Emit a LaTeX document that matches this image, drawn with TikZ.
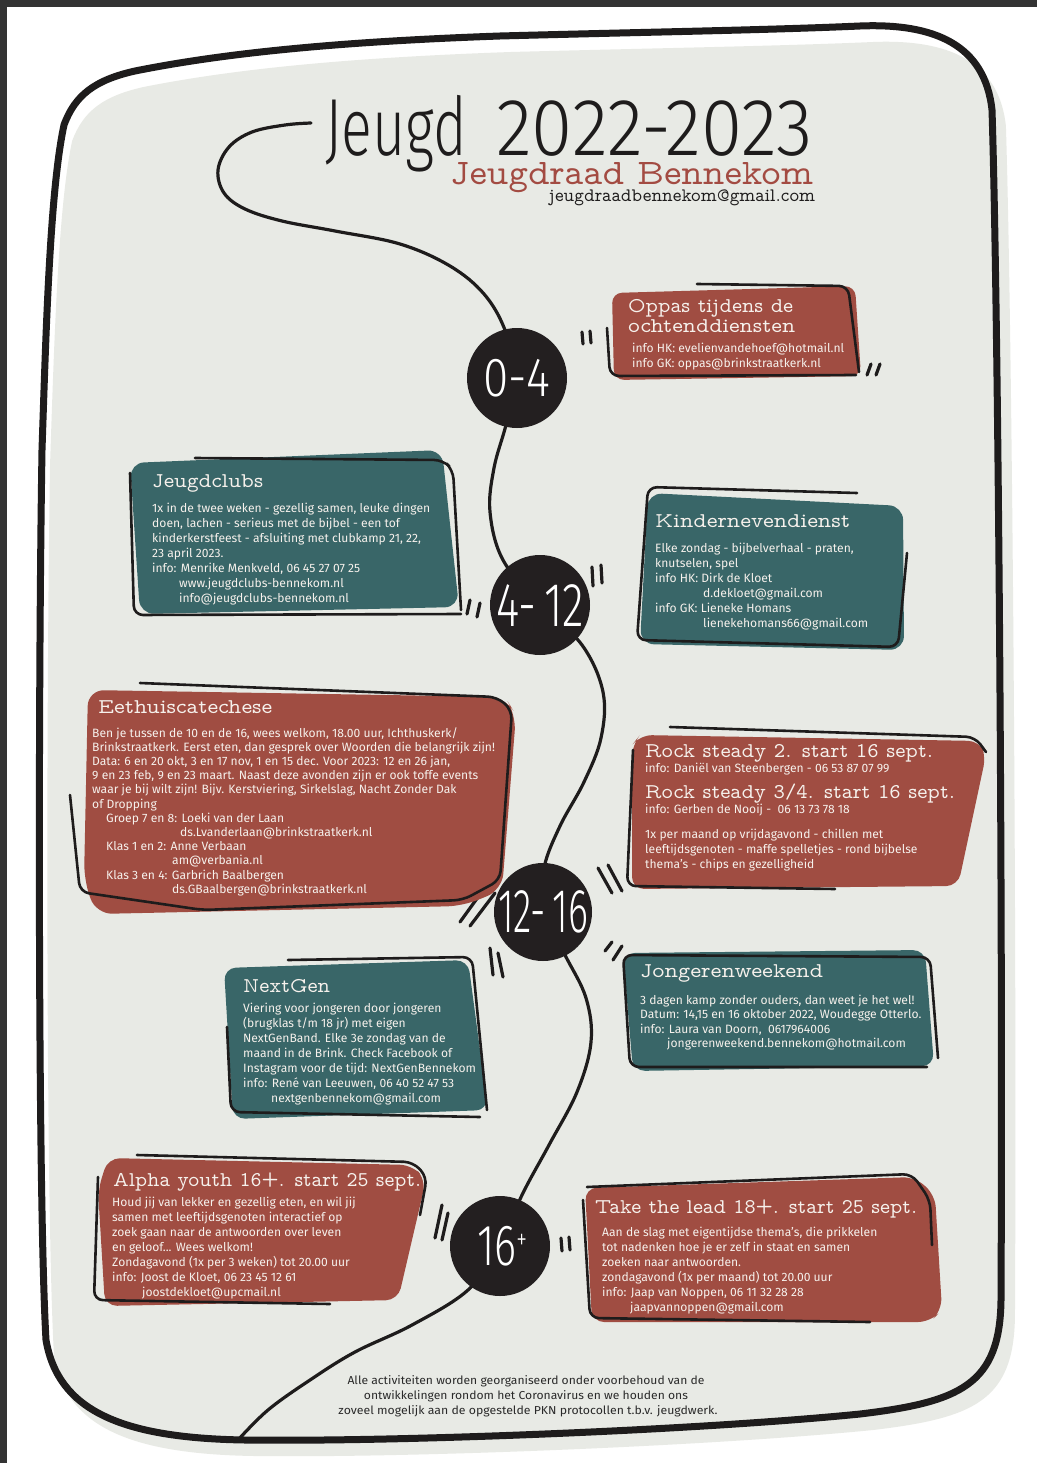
\documentclass[tikz,border=0pt]{standalone}
\usepackage{fontspec}
\usepackage{graphicx}
\setmainfont{Fira Sans}
\newfontfamily\thinf{Fira Sans Light}
\newfontfamily\typef{lmmonoprop10-regular.otf}
\definecolor{bggray}{HTML}{E8EAE5}
\definecolor{redf}{HTML}{A04D42}
\definecolor{tealf}{HTML}{396668}
\definecolor{inkc}{HTML}{1E1C1C}
\definecolor{darkc}{HTML}{231F20}
\definecolor{titred}{HTML}{A34B42}
\definecolor{boxtext}{HTML}{F6F1EC}
\definecolor{framec}{HTML}{333333}
\definecolor{footc}{HTML}{2A2A2A}
\newcommand\fitw[2]{\resizebox{#1pt}{\height}{#2}}
\newcommand\txtlines[1]{\begin{tabular}[t]{@{}l@{}}#1\end{tabular}}
\tikzset{
  bodytxt/.style={anchor=base west, inner sep=0, text=boxtext, font=\fontsize{12.1}{15}\selectfont},
  headtxt/.style={anchor=base west, inner sep=0, text=boxtext, font=\typef\fontsize{21}{21}\selectfont},
  sk/.style={draw=inkc, line width=2.6pt, line cap=round, line join=round, rounded corners=9pt},
  qm/.style={draw=inkc, line width=3.2pt, line cap=round},
  agec/.style={circle, fill=darkc, inner sep=0},
  agetxt/.style={text=white, inner sep=0},
  pathline/.style={draw=inkc, line width=3.2pt, line cap=round},
  foot/.style={anchor=base, inner sep=0, text=footc, font=\fontsize{11.5}{15}\selectfont},
}
\def\blobpath{(42,450) .. controls (46,330) and (50,190) .. (64,125)
 .. controls (75,95) and (95,80) .. (135,71)
 .. controls (220,54) and (330,42) .. (500,36)
 .. controls (650,32) and (770,30) .. (860,26)
 .. controls (935,23) and (985,45) .. (992,110)
 .. controls (998,300) and (1003,900) .. (1001,1300)
 .. controls (1000,1385) and (960,1402) .. (860,1414)
 .. controls (700,1430) and (400,1442) .. (245,1440)
 .. controls (120,1438) and (58,1410) .. (46,1340)
 .. controls (38,1200) and (38,700) .. (42,450) -- cycle}
\begin{document}
\begin{tikzpicture}[x=1pt,y=-1pt]
\useasboundingbox (0,0) rectangle (1037,1463);
\fill[white] (0,0) rectangle (1037,1463);
\fill[framec] (0,0) rectangle (1037,7);
\fill[framec] (0,0) rectangle (7,1463);
% background blob and frame
\fill[bggray, shift={(7.75,16)}, xscale=1.0062] \blobpath;
\draw[inkc, line width=7pt] \blobpath;
% timeline path
\coordinate (p04) at (517,378);
\coordinate (p412) at (540,605);
\coordinate (p1216) at (543,912);
\coordinate (p16) at (500,1246);
\draw[pathline] plot[smooth, tension=0.6] coordinates {
 (311,123) (285,125) (252,132) (229,147) (218,170) (224,193) (245,209) (282,221) (335,231) (400,244) (450,266) (484,294) (505,330) (p04) (506,425) (494,468) (490,512) (503,560) (p412) (582,645) (603,692) (601,738) (584,782) (560,826) (544,868) (p1216) (565,955) (586,998) (591,1042) (577,1092) (549,1145) (522,1195) (p16) (468,1290) (412,1325) (355,1352) (310,1380) (268,1410) (238,1440)};
% header
\node[anchor=base west, inner sep=0, text=inkc] (title1) at (325,156) {\fitw{142}{\thinf\fontsize{81}{81}\selectfont Jeugd}};
\node[anchor=base west, inner sep=0, text=inkc] (title2) at (496,156) {\fitw{317}{\thinf\fontsize{81}{81}\selectfont 2022-2023}};
\node[anchor=base west, inner sep=0, text=titred] (sub) at (450,185) {\fitw{363}{\typef\fontsize{36}{36}\selectfont Jeugdraad Bennekom}};
\node[anchor=base west, inner sep=0, text=inkc] (mail) at (549,202) {\fitw{266}{\typef\fontsize{19}{19}\selectfont jeugdraadbennekom@gmail.com}};
% circles
\node[agec, minimum size=100pt] (c04) at (p04) {};
\node[agec, minimum size=100pt] (c412) at (p412) {};
\node[agec, minimum size=98pt] (c1216) at (p1216) {};
\node[agec, minimum size=100pt] (c16) at (p16) {};
\node[agetxt] (t04) at (c04) {\fitw{67}{\thinf\fontsize{55}{55}\selectfont 0-4}};
\node[agetxt] (t412) at ([yshift=-1pt]c412) {\fitw{88}{\thinf\fontsize{62}{62}\selectfont 4-\,12}};
\node[agetxt] (t1216) at (c1216) {\fitw{90}{\thinf\fontsize{62}{62}\selectfont 12-\,16}};
\node[agetxt] (t16) at ([xshift=2pt]c16) {\fitw{50}{\thinf\fontsize{58}{58}\selectfont 16\raisebox{16pt}{\fontsize{30}{30}\selectfont +}}};
% quote marks
\draw[qm] (582,332) -- (583,344);  \draw[qm] (590,331) -- (591,343);
\draw[qm] (867,375) -- (871,364);  \draw[qm] (876,375) -- (880,364);
\draw[qm] (467,614) -- (470,600);  \draw[qm] (477,617) -- (480,603);
\draw[qm] (592,567) -- (593,586);  \draw[qm] (601,565) -- (602,583);
\draw[qm] (460,922) -- (486,886);  \draw[qm] (470,926) -- (495,893);
\draw[qm] (598,868) -- (612,893);  \draw[qm] (608,865) -- (622,891);
\draw[qm] (605,951) -- (612,942);  \draw[qm] (613,960) -- (622,946);
\draw[qm] (490,948) -- (493,975);  \draw[qm] (498,953) -- (503,977);
\draw[qm] (435,1238) -- (442,1205); \draw[qm] (442,1240) -- (448,1213);
\draw[qm] (561,1238) -- (562,1251); \draw[qm] (569,1237) -- (570,1250);
% ---- Oppas
\fill[redf, rounded corners=10pt] (612,293) -- (855,286) -- (861,376) -- (614,380) -- cycle;
\draw[sk] (607,328) -- (610,376) -- (856,375);
\draw[sk] (697,284) -- (848,286) -- (859,372);
\node[headtxt] (oph1) at (628,312) {\fitw{165}{Oppas tijdens de}};
\node[headtxt] (oph2) at (628,332) {\fitw{167}{ochtenddiensten}};
\node[bodytxt] (opb) at (632,352) {\txtlines{info HK: evelienvandehoef@hotmail.nl\\ info GK: oppas@brinkstraatkerk.nl}};
% ---- Jeugdclubs
\fill[tealf, rounded corners=14pt] (130,463) -- (442,450) -- (459,607) -- (140,614) -- cycle;
\draw[sk] (195,458) -- (443,460) -- (453,470) -- (461,610);
\draw[sk] (130,473) -- (134,615) -- (461,614);
\node[headtxt] (jch) at (152,487) {\fitw{111}{Jeugdclubs}};
\node[bodytxt] (jcb) at (152,512) {\txtlines{1x in de twee weken - gezellig samen, leuke dingen\\ doen, lachen - serieus met de bijbel - een tof\\ kinderkerstfeest - afsluiting met clubkamp 21, 22,\\ 23 april 2023.\\ info: Menrike Menkveld, 06 45 27 07 25\\ \hspace*{27pt}www.jeugdclubs-bennekom.nl\\ \hspace*{27pt}info@jeugdclubs-bennekom.nl}};
% ---- Kindernevendienst
\fill[tealf, rounded corners=14pt] (648,493) -- (903,506) -- (904,650) -- (640,644) -- cycle;
\draw[sk] (857,493) -- (648,487) -- (637,640) -- (898,647) -- (907,553);
\node[headtxt] (knh) at (655,527) {\fitw{195}{Kindernevendienst}};
\node[bodytxt] (knb) at (655,552) {\txtlines{Elke zondag - bijbelverhaal - praten,\\ knutselen, spel\\ info HK: Dirk de Kloet\\ \hspace*{48pt}d.dekloet@gmail.com\\ info GK: Lieneke Homans\\ \hspace*{48pt}lienekehomans66@gmail.com}};
% ---- Eethuiscatechese
\fill[redf, rounded corners=16pt] (88,690) -- (505,697) -- (516,715) -- (502,890) -- (463,906) -- (96,914) -- (84,880) -- cycle;
\draw[sk] (70,795) -- (80,892) -- (203,910) -- (463,900) -- (500,880) -- (512,710) -- (497,697) -- (140,683);
\node[headtxt] (eth) at (98,713) {\fitw{174}{Eethuiscatechese}};
\node[bodytxt, font=\fontsize{12.1}{14.2}\selectfont] (etb) at (92,737) {\txtlines{Ben je tussen de 10 en de 16, wees welkom, 18.00 uur, Ichthuskerk/\\ Brinkstraatkerk. Eerst eten, dan gesprek over Woorden die belangrijk zijn!\\ Data: 6 en 20 okt, 3 en 17 nov, 1 en 15 dec. Voor 2023: 12 en 26 jan,\\ 9 en 23 feb, 9 en 23 maart. Naast deze avonden zijn er ook toffe events\\ waar je bij wilt zijn! Bijv. Kerstviering, Sirkelslag, Nacht Zonder Dak\\ of Dropping\\ \hspace*{14pt}Groep 7 en 8: Loeki van der Laan\\ \hspace*{88pt}ds.Lvanderlaan@brinkstraatkerk.nl\\ \hspace*{14pt}Klas 1 en 2: Anne Verbaan\\ \hspace*{80pt}am@verbania.nl\\ \hspace*{14pt}Klas 3 en 4: Garbrich Baalbergen\\ \hspace*{80pt}ds.GBaalbergen@brinkstraatkerk.nl}};
% ---- Rock steady
\fill[redf, rounded corners=12pt] (640,735) -- (980,741) -- (986,755) -- (958,886) -- (632,889) -- (632,745) -- cycle;
\draw[sk] (670,727) -- (975,737) -- (986,752);
\draw[sk] (633,750) -- (627,886) -- (835,889);
\node[headtxt] (rs1) at (645,757) {\fitw{288}{Rock steady 2. start 16 sept.}};
\node[bodytxt] (rs1i) at (645,772) {info: Daniël van Steenbergen - 06 53 87 07 99};
\node[headtxt] (rs2) at (645,798) {\fitw{310}{Rock steady 3/4. start 16 sept.}};
\node[bodytxt] (rs2i) at (645,813) {info: Gerben de Nooij - \ 06 13 73 78 18};
\node[bodytxt] (rsb) at (645,838) {\txtlines{1x per maand op vrijdagavond - chillen met\\ leeftijdsgenoten - maffe spelletjes - rond bijbelse\\ thema's - chips en gezelligheid}};
% ---- NextGen
\fill[tealf, rounded corners=12pt] (224,968) -- (468,960) -- (488,1110) -- (233,1119) -- cycle;
\draw[sk] (288,960) -- (472,957) -- (487,1110);
\draw[sk] (227,1027) -- (231,1112) -- (480,1117);
\node[headtxt] (ngh) at (243,992) {\fitw{87}{NextGen}};
\node[bodytxt] (ngb) at (243,1012) {\txtlines{Viering voor jongeren door jongeren\\ (brugklas t/m 18 jr) met eigen\\ NextGenBand. Elke 3e zondag van de\\ maand in de Brink. Check Facebook of\\ Instagram voor de tijd: NextGenBennekom\\ info: René van Leeuwen, 06 40 52 47 53\\ \hspace*{28pt}nextgenbennekom@gmail.com}};
% ---- Jongerenweekend
\fill[tealf, rounded corners=12pt] (623,953) -- (925,950) -- (934,1066) -- (633,1071) -- cycle;
\draw[sk] (938,1058) -- (930,957) -- (623,955) -- (630,1067) -- (927,1067);
\node[headtxt] (jwh) at (640,977) {\fitw{183}{Jongerenweekend}};
\node[bodytxt, font=\fontsize{12.1}{14.5}\selectfont] (jwb) at (640,1004) {\txtlines{3 dagen kamp zonder ouders, dan weet je het wel!\\ Datum: 14,15 en 16 oktober 2022, Woudegge Otterlo.\\ info: Laura van Doorn, \ 0617964006\\ \hspace*{27pt}jongerenweekend.bennekom@hotmail.com}};
% ---- Alpha youth
\fill[redf, rounded corners=12pt] (108,1158) -- (412,1165) -- (426,1180) -- (398,1300) -- (105,1306) -- (98,1190) -- cycle;
\draw[sk] (137,1155) -- (413,1162) -- (427,1177) -- (420,1215);
\draw[sk] (98,1177) -- (94,1300) -- (330,1304);
\node[headtxt] (alh) at (113,1186) {\fitw{308}{Alpha youth 16+. start 25 sept.}};
\node[bodytxt] (alb) at (112,1206) {\txtlines{Houd jij van lekker en gezellig eten, en wil jij\\ samen met leeftijdsgenoten interactief op\\ zoek gaan naar de antwoorden over leven\\ en geloof... Wees welkom!\\ Zondagavond (1x per 3 weken) tot 20.00 uur\\ info: Joost de Kloet, 06 23 45 12 61\\ \hspace*{30pt}joostdekloet@upcmail.nl}};
% ---- Take the lead
\fill[redf, rounded corners=12pt] (585,1188) -- (915,1177) -- (935,1195) -- (942,1310) -- (930,1322) -- (592,1322) -- cycle;
\draw[sk] (587,1187) -- (912,1174) -- (930,1200) -- (932,1245);
\draw[sk] (583,1200) -- (590,1318) -- (870,1322);
\node[headtxt] (tlh) at (595,1213) {\fitw{322}{Take the lead 18+. start 25 sept.}};
\node[bodytxt] (tlb) at (602,1236) {\txtlines{Aan de slag met eigentijdse thema’s, die prikkelen\\ tot nadenken hoe je er zelf in staat en samen\\ zoeken naar antwoorden.\\ zondagavond (1x per maand) tot 20.00 uur\\ info: Jaap van Noppen, 06 11 32 28 28\\ \hspace*{28pt}jaapvannoppen@gmail.com}};
% footer
\node[foot] (f1) at (526,1384) {\fitw{357}{Alle activiteiten worden georganiseerd onder voorbehoud van de}};
\node[foot] (f2) at (526,1399) {\fitw{324}{ontwikkelingen rondom het Coronavirus en we houden ons}};
\node[foot] (f3) at (528,1414) {\fitw{379}{zoveel mogelijk aan de opgestelde PKN protocollen t.b.v. jeugdwerk.}};
\end{tikzpicture}
\end{document}
